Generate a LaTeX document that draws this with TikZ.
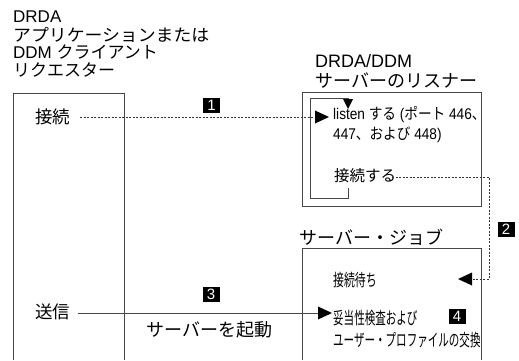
\documentclass[tikz,border=0pt]{standalone}
\usepackage{fontspec}
\setmainfont{Liberation Sans}
\newfontfamily\jp{Noto Sans CJK JP}
\usetikzlibrary{arrows.meta}
\begin{document}
\begin{tikzpicture}[x=1pt,y=-1pt,
  line/.style={draw=black!72,line width=1pt},
  dotline/.style={draw=black!80,line width=0.9pt,dash pattern=on 2pt off 1.5pt},
  tip/.style={-{Triangle[length=14pt,width=13pt,sep=0pt,color=black,line width=0pt]}},
  hd/.style={inner sep=0pt,anchor=base west,font=\fontsize{17}{18}\selectfont},
  hdr/.style={inner sep=0pt,anchor=base west,font=\fontsize{18}{19}\selectfont},
  lbl/.style={inner sep=0pt,anchor=west,font=\fontsize{17.5}{18}\selectfont},
  boxtxt/.style={inner sep=0pt,anchor=west,font=\fontsize{15.5}{16}\selectfont},
  cond/.style={inner sep=0pt,anchor=west,font=\fontsize{17}{17}\selectfont},
  num/.style={fill=black,text=white,inner sep=0pt,minimum width=17pt,minimum height=15pt,font=\fontsize{15}{15}\selectfont}]
\useasboundingbox (0,0) rectangle (519,360);
% titles
\node[hd] (t1a) at (13,22) {DRDA};
\node[hd] (t1b) at (13,41) {\jp\scalebox{1.05}[1]{アプリケーションまたは}};
\node[hd] (t1c) at (13,58) {DDM {\jp クライアント}};
\node[hd] (t1d) at (13,76) {\jp リクエスター};
\node[hdr] (t2a) at (315,67) {DRDA/DDM};
\node[hdr] (t2b) at (315,87) {\jp サーバーのリスナー};
\node[hdr] (t3) at (299,244) {\jp サーバー・ジョブ};
% boxes
\coordinate (lb1) at (13,360); \coordinate (lb2) at (13,93);
\coordinate (lb3) at (124,93); \coordinate (lb4) at (124,360);
\draw[line] (lb1) -- (lb2) -- (lb3) -- (lb4);
\node[line,minimum width=179pt,minimum height=114pt,anchor=north west,inner sep=0pt] (lis) at (302,92) {};
\coordinate (sb1) at (302,360); \coordinate (sb2) at (302,248);
\coordinate (sb3) at (481,248); \coordinate (sb4) at (481,360);
\draw[line] (sb1) -- (sb2) -- (sb3) -- (sb4);
% texts
\node[lbl] (c1) at (35,117) {\jp 接続};
\node[lbl] (s1) at (35,312) {\jp 送信};
\node[lbl,font=\fontsize{18}{18}\selectfont] (kid) at (146,330) {\jp サーバーを起動};
\node[boxtxt] (lis1) at (333,115) {\scalebox{0.88}[1]{listen {\jp する} ({\jp ポート} 446{\jp 、}}};
\node[boxtxt] (lis2) at (333,135) {\scalebox{0.88}[1]{447{\jp 、および} 448)}};
\node[boxtxt] (con) at (334,176) {\jp 接続する};
\node[cond] (wait) at (333,280) {\jp\scalebox{0.64}[1]{接続待ち}};
\node[cond] (val1) at (333,318) {\jp\scalebox{0.62}[1]{妥当性検査および}};
\node[cond] (val2) at (333,340) {\jp\scalebox{0.62}[1]{ユーザー・プロファイルの交換}};
% numbers
\node[num] (n1) at (211.5,105) {1};
\node[num] (n2) at (506,229) {2};
\node[num] (n3) at (211,294.5) {3};
\node[num] (n4) at (457,316) {4};
% loop in listener
\coordinate (lp1) at (348,188); \coordinate (lp2) at (348,198);
\coordinate (lp3) at (310,198); \coordinate (lp4) at (310,98);
\coordinate (lp5) at (348,98); \coordinate (lp6) at (348,109);
\draw[line,-{Triangle[length=10pt,width=10pt,color=black,line width=0pt]}] (lp1) -- (lp2) -- (lp3) -- (lp4) -- (lp5) -- (lp6);
% connectors
\coordinate (d1) at (80,117);
\coordinate (d2) at (329,117);
\draw[dotline,tip] (d1) -- (d2);
\coordinate (r0) at (392,177);
\coordinate (r1) at (489,177);
\coordinate (r2) at (489,279);
\coordinate (r3) at (458,279);
\draw[dotline,tip] (r0) -- (r1) -- (r2) -- (r3);
\coordinate (a0) at (78,313);
\coordinate (a1) at (332,313);
\draw[line,tip] (a0) -- (a1);
\end{tikzpicture}
\end{document}
